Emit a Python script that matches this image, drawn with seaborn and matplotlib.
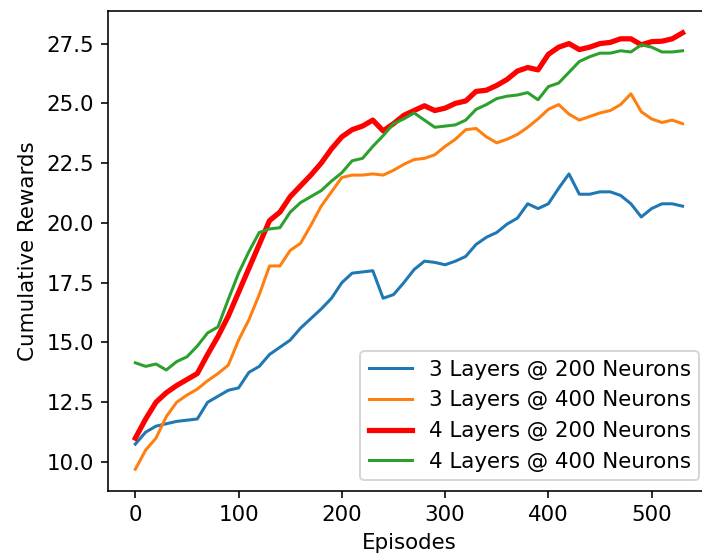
import numpy as np
import pandas as pd
import seaborn as sns
import matplotlib
matplotlib.use("Agg")
import matplotlib.pyplot as plt

plt.rcParams["font.size"] = 10.6

# episodes sampled every 10
episodes = np.arange(0, 531, 10)

l3_n200 = [10.75, 11.25, 11.5, 11.6, 11.7, 11.75, 11.8, 12.5, 12.75, 13.0,
           13.1, 13.75, 14.0, 14.5, 14.8, 15.1, 15.6, 16.0, 16.4, 16.85,
           17.5, 17.9, 17.95, 18.0, 16.85, 17.0, 17.5, 18.05, 18.4, 18.35,
           18.25, 18.4, 18.6, 19.1, 19.4, 19.6, 19.95, 20.2, 20.8, 20.6,
           20.8, 21.45, 22.05, 21.2, 21.2, 21.3, 21.3, 21.15, 20.8, 20.25,
           20.6, 20.8, 20.8, 20.7]

l3_n400 = [9.7, 10.5, 11.0, 11.9, 12.5, 12.8, 13.05, 13.4, 13.7, 14.05,
           15.1, 15.95, 17.0, 18.2, 18.2, 18.85, 19.15, 19.9, 20.7, 21.3,
           21.9, 22.0, 22.0, 22.05, 22.0, 22.2, 22.45, 22.65, 22.7, 22.85,
           23.2, 23.5, 23.9, 23.95, 23.6, 23.35, 23.5, 23.7, 24.0, 24.35,
           24.75, 24.95, 24.55, 24.3, 24.45, 24.6, 24.7, 24.95, 25.4, 24.65,
           24.35, 24.2, 24.3, 24.15]

l4_n200 = [11.0, 11.8, 12.5, 12.9, 13.2, 13.45, 13.7, 14.5, 15.25, 16.1,
           17.1, 18.1, 19.1, 20.1, 20.45, 21.1, 21.55, 22.0, 22.5, 23.1,
           23.6, 23.9, 24.05, 24.3, 23.85, 24.15, 24.5, 24.7, 24.9, 24.7,
           24.8, 25.0, 25.1, 25.5, 25.55, 25.75, 26.0, 26.35, 26.5, 26.4,
           27.05, 27.35, 27.5, 27.25, 27.35, 27.5, 27.55, 27.7, 27.7, 27.45,
           27.58, 27.6, 27.7, 27.95]

l4_n400 = [14.15, 14.0, 14.1, 13.85, 14.2, 14.4, 14.85, 15.4, 15.65, 16.8,
           17.9, 18.8, 19.6, 19.75, 19.8, 20.45, 20.85, 21.1, 21.35, 21.75,
           22.1, 22.6, 22.7, 23.2, 23.65, 24.15, 24.35, 24.6, 24.3, 24.0,
           24.05, 24.1, 24.3, 24.75, 24.95, 25.2, 25.3, 25.35, 25.45, 25.15,
           25.7, 25.85, 26.3, 26.75, 26.95, 27.1, 27.1, 27.2, 27.15, 27.45,
           27.35, 27.15, 27.15, 27.2]

labels = ["3 Layers @ 200 Neurons", "3 Layers @ 400 Neurons",
          "4 Layers @ 200 Neurons", "4 Layers @ 400 Neurons"]
series = [l3_n200, l3_n400, l4_n200, l4_n400]
colors = ["tab:blue", "tab:orange", "red", "tab:green"]
widths = [1.5, 1.5, 2.6, 1.5]

fig = plt.figure(figsize=(702 / 145, 559 / 145), dpi=145)
ax = fig.add_axes([0.1538, 0.1216, 0.8575, 0.8587])

for lab, vals, c, lw in zip(labels, series, colors, widths):
    sns.lineplot(x=episodes, y=vals, color=c, linewidth=lw, label=lab, ax=ax)

ax.set_xlabel("Episodes")
ax.set_ylabel("Cumulative Rewards")
ax.set_xticks([0, 100, 200, 300, 400, 500])
ax.set_yticks([10.0, 12.5, 15.0, 17.5, 20.0, 22.5, 25.0, 27.5])
ax.legend(loc="lower right")

fig.savefig("out.png", dpi=145)
